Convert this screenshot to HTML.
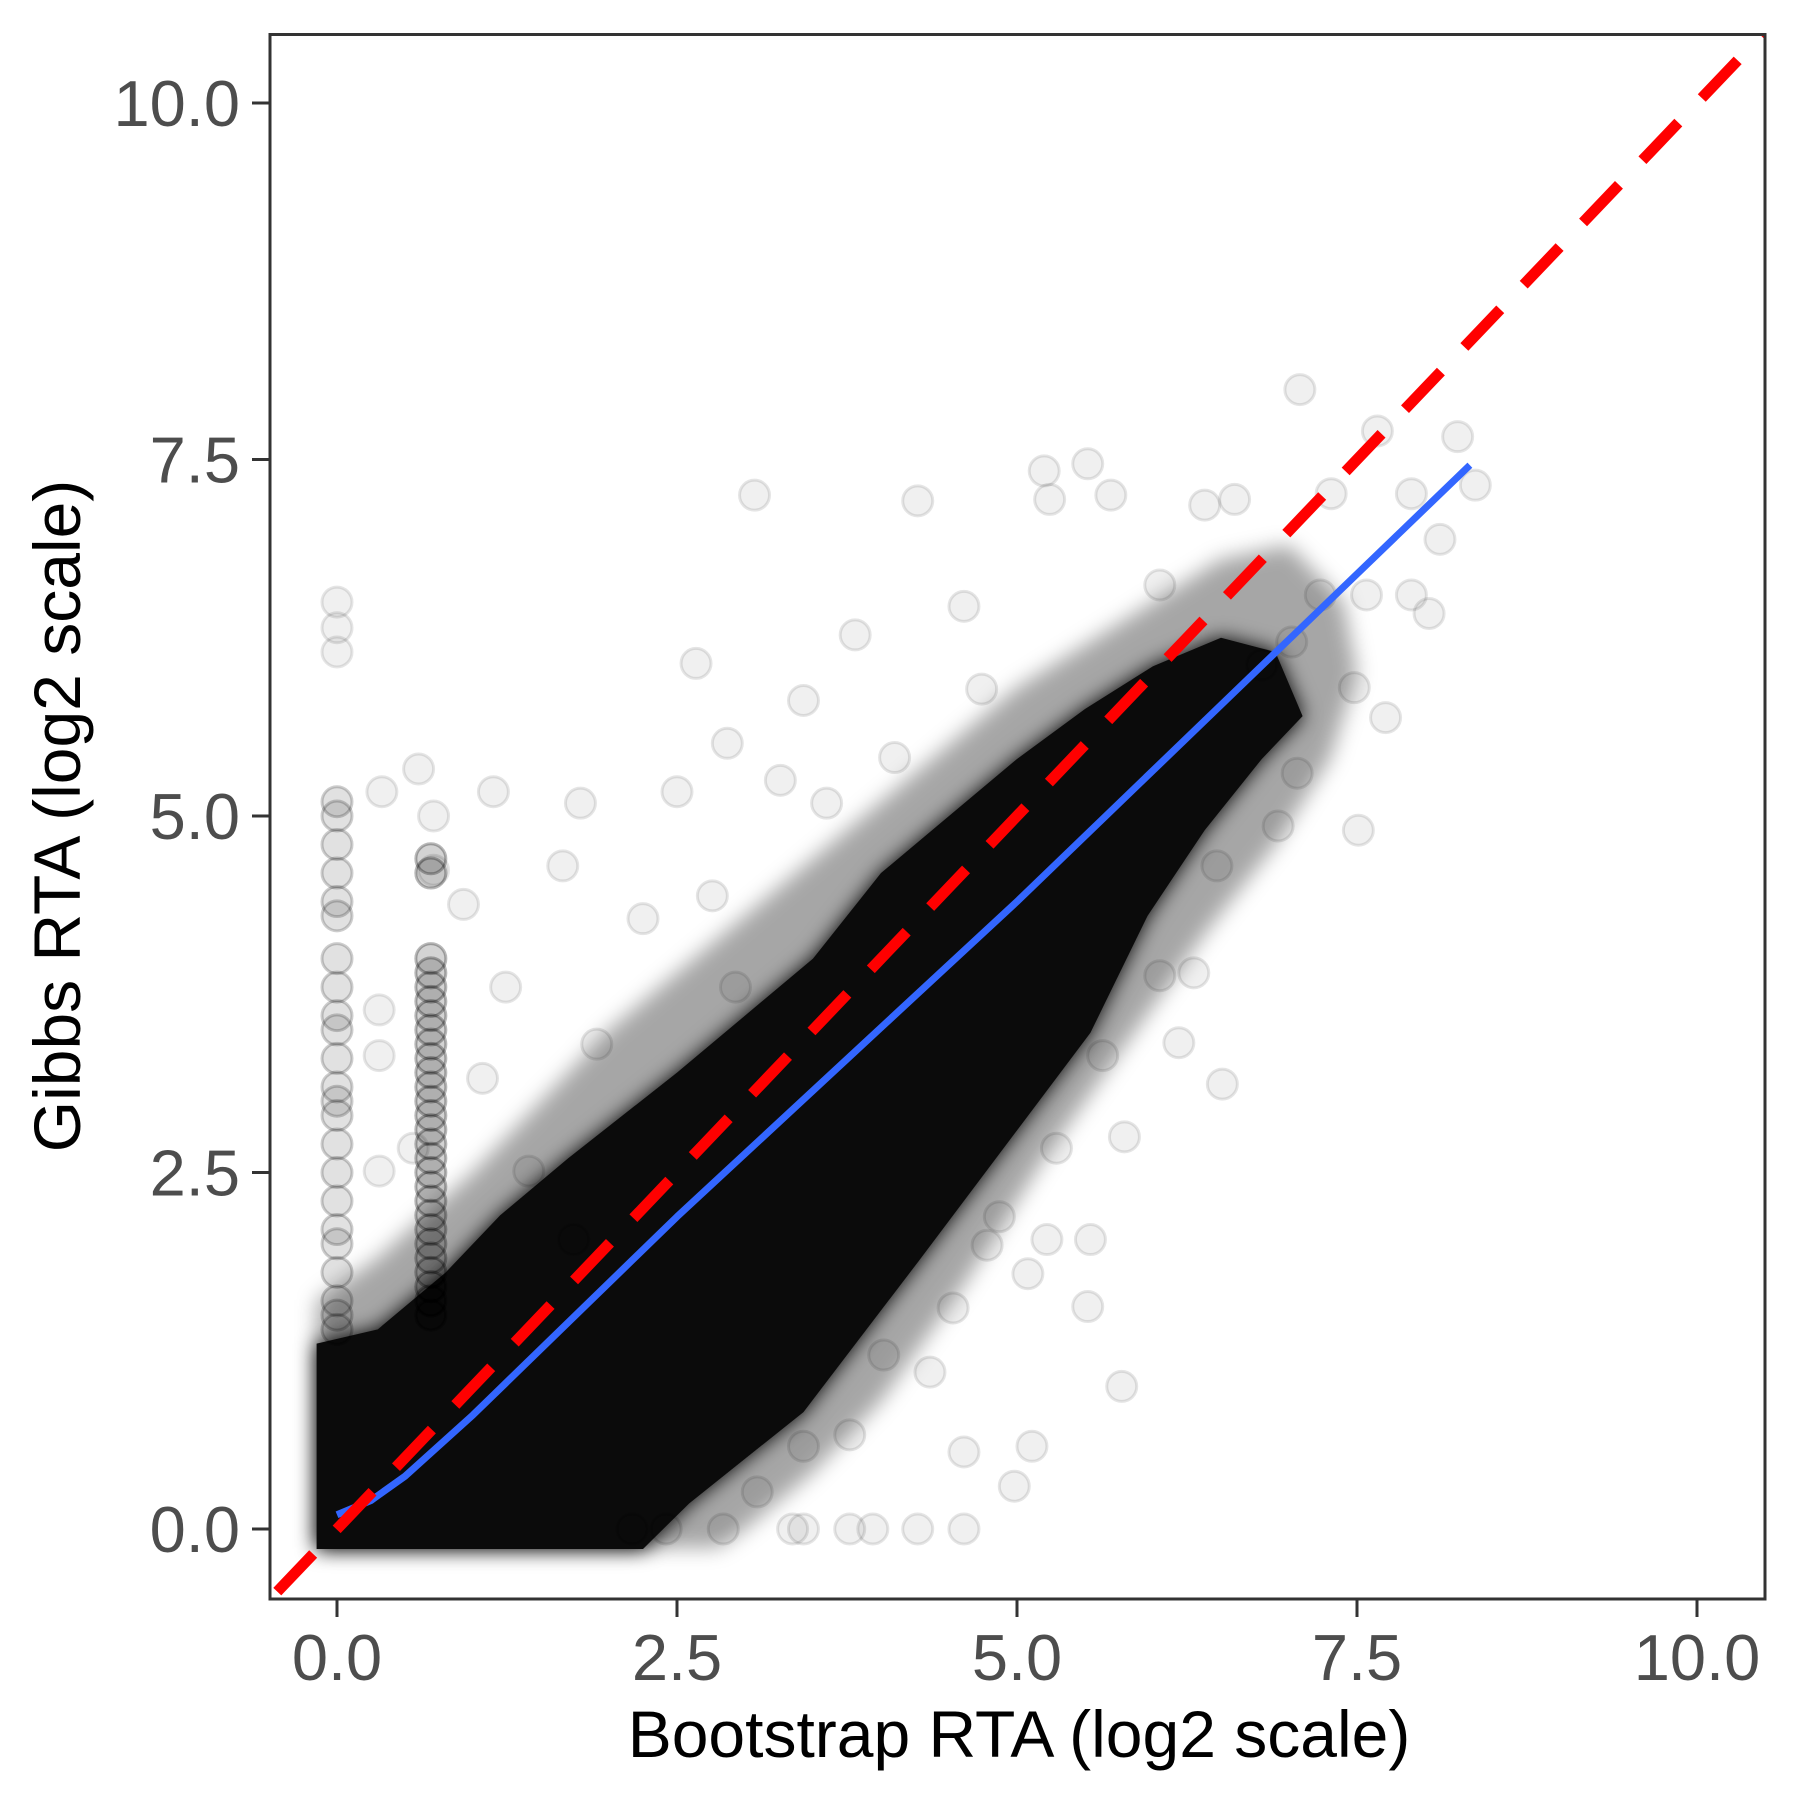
<!DOCTYPE html>
<html><head><meta charset="utf-8"><style>
html,body{margin:0;padding:0;background:#fff}
svg{display:block}
text{font-family:"Liberation Sans",sans-serif}
</style></head><body>
<svg id="chart" width="1800" height="1800" viewBox="0 0 1800 1800" xmlns="http://www.w3.org/2000/svg">
<rect width="1800" height="1800" fill="#fff"/>
<defs><clipPath id="clip"><rect x="270" y="34.5" width="1495" height="1564.5"/></clipPath>
<filter id="blur" x="-10%" y="-10%" width="120%" height="120%"><feGaussianBlur stdDeviation="10"/></filter></defs>
<g id="plot" clip-path="url(#clip)"></g>
<rect x="270" y="34.5" width="1495" height="1564.5" fill="none" stroke="#333" stroke-width="3"/>
<g id="axes"></g>
<text x="1019" y="1757" font-size="66" text-anchor="middle" fill="#000">Bootstrap RTA (log2 scale)</text>
<text transform="translate(80,816) rotate(-90)" font-size="66" text-anchor="middle" fill="#000">Gibbs RTA (log2 scale)</text>
</svg>
<script>
const xTicks = [0, 2.5, 5, 7.5, 10];
const yTicks = [0, 2.5, 5, 7.5, 10];
const xTickLabels = ["0.0", "2.5", "5.0", "7.5", "10.0"];
const yTickLabels = ["0.0", "2.5", "5.0", "7.5", "10.0"];
const haloPolyX = [-0.15,-0.15,0.3,1.0,1.5,2.0,2.5,3.0,3.5,4.0,4.5,5.0,5.5,6.0,6.5,7.0,7.4,7.5,7.3,6.9,6.4,5.8,5.2,4.6,4.0,3.5,3.0,2.8];
const haloPolyY = [-0.13,1.6,1.9,2.5,3.0,3.5,3.9,4.3,4.7,5.1,5.5,5.9,6.2,6.5,6.8,6.9,6.5,6.0,5.4,4.8,4.2,3.4,2.6,1.7,0.9,0.4,0.0,-0.13];
const corePolyX = [-0.15,-0.15,0.3,0.8,1.2,1.7,2.5,3.0,3.5,4.0,4.5,5.0,5.5,6.0,6.5,6.9,7.1,6.8,6.38,5.96,5.54,4.27,3.43,2.59,2.25];
const corePolyY = [-0.14,1.3,1.4,1.8,2.2,2.6,3.2,3.6,4.0,4.6,5.0,5.4,5.75,6.05,6.25,6.15,5.7,5.4,4.9,4.3,3.48,1.87,0.82,0.18,-0.14];
const outlierX = [3.07,4.27,5.2,5.24,5.52,5.69,7.08,7.65,8.24,8.37,8.03,8.11,7.71,7.51,6.92,6.51,6.3,6.19,5.79,5.54,5.22,5.52,5.77,5.11,4.98,4.61,4.61,4.27,3.94,3.43,3.35,3.77,4.36,5.08,4.78,0,0,0,0.6,0.33,1.15,1.79,2.64,2.87,3.81,4.61,7.06,0.71,0.71,0.93,1.66,2.5,3.43,4.74,6.05,6.38,6.6,7.31,7.9,7.23,7.57,7.9,7.02,7.48,6.8,6.47,6.05,5.63,5.29,4.87,4.53,4.02,3.43,3.77,3.09,2.84,2.17,2.42,1.74,1.41,1.07,1.24,1.91,2.25,2.76,3.26,3.6,4.1,2.93,0.31,0.31,0.56,0.31];
const outlierY = [7.25,7.21,7.42,7.22,7.47,7.25,7.99,7.7,7.66,7.32,6.42,6.94,5.69,4.9,4.93,3.12,3.9,3.41,2.75,2.03,2.03,1.56,1.0,0.58,0.3,0.54,0,0,0,0,0,0,1.1,1.79,1.99,6.5,6.32,6.15,5.33,5.17,5.17,5.09,6.07,5.51,6.27,6.47,5.3,5.0,4.62,4.38,4.65,5.17,5.81,5.89,6.62,7.18,7.22,7.26,7.26,6.55,6.55,6.55,6.22,5.9,6.06,4.65,3.88,3.32,2.67,2.19,1.55,1.22,0.58,0.66,0.26,0,0,0,2.03,2.51,3.16,3.8,3.4,4.28,4.44,5.25,5.09,5.41,3.8,3.64,3.32,2.67,2.51];
const col0Y = [5.1,5.0,4.8,4.6,4.4,4.3,4.0,3.8,3.6,3.5,3.3,3.1,3.0,2.9,2.7,2.5,2.3,2.1,2.0,1.8,1.6,1.5,1.4];
const col07Y = [4.7,4.6,4.0,3.9,3.8,3.7,3.6,3.5,3.4,3.3,3.2,3.1,3.0,2.9,2.8,2.7,2.6,2.5,2.4,2.3,2.2,2.1,2.0,1.9,1.8,1.7,1.6,1.5];
const smoothX = [0,0.25,0.5,1.0,2.5,5.0,8.33];
const smoothY = [0.1,0.2,0.37,0.8,2.19,4.4,7.46];
const refLine = [-0.5, 10.5];

const NS = "http://www.w3.org/2000/svg";
const sx = v => 337 + 136 * v;
const sy = v => 1529 - 142.6 * v;
const plot = document.getElementById('plot');
const axes = document.getElementById('axes');
function mk(tag, attrs, parent){const e=document.createElementNS(NS,tag);for(const k in attrs)e.setAttribute(k,attrs[k]);parent.appendChild(e);return e;}

let pts = haloPolyX.map((x,i)=>sx(x)+','+sy(haloPolyY[i])).join(' ');
let halo = mk('polygon',{points:pts,fill:'#0b0b0b','fill-opacity':'0.35',filter:'url(#blur)'},plot);


pts = corePolyX.map((x,i)=>sx(x)+','+sy(corePolyY[i])).join(' ');
let core2 = mk('polygon',{points:pts,fill:'#0b0b0b',filter:'url(#blur)'},plot);


let core = mk('polygon',{points:pts,fill:'#0b0b0b'},plot);



function dot(x,y){
  const c = mk('circle',{cx:sx(x),cy:sy(y),r:15,fill:'rgba(0,0,0,0.06)',stroke:'rgba(0,0,0,0.1)','stroke-width':3},plot);
  
  
}
col0Y.forEach(y=>{dot(0,y);dot(0,y);});
col07Y.forEach(y=>{dot(0.69,y);dot(0.69,y);dot(0.69,y);});
outlierX.forEach((x,i)=>dot(x,outlierY[i]));

let sp = smoothX.map((x,i)=>sx(x)+','+sy(smoothY[i])).join(' ');
let sm = mk('polyline',{points:sp,fill:'none',stroke:'#3366ff','stroke-width':7,'stroke-linejoin':'round'},plot);


let rl = mk('line',{x1:sx(refLine[0]),y1:sy(refLine[0]),x2:sx(refLine[1]),y2:sy(refLine[1]),stroke:'#ff0000','stroke-width':11,'stroke-dasharray':'52 34','stroke-dashoffset':'-12'},plot);



xTicks.forEach((v,i)=>{
  const t = mk('line',{x1:sx(v),x2:sx(v),y1:1600,y2:1617,stroke:'#333','stroke-width':3},axes);
  
  
  const l = mk('text',{x:sx(v),y:1680,'font-size':65,'text-anchor':'middle',fill:'#4d4d4d'},axes);
  l.textContent = xTickLabels[i];
  
  
});
yTicks.forEach((v,i)=>{
  const t = mk('line',{x1:252,x2:269,y1:sy(v),y2:sy(v),stroke:'#333','stroke-width':3},axes);
  
  
  const l = mk('text',{x:240,y:sy(v)+23,'font-size':65,'text-anchor':'end',fill:'#4d4d4d'},axes);
  l.textContent = yTickLabels[i];
  
  
});
</script>
</body></html>
